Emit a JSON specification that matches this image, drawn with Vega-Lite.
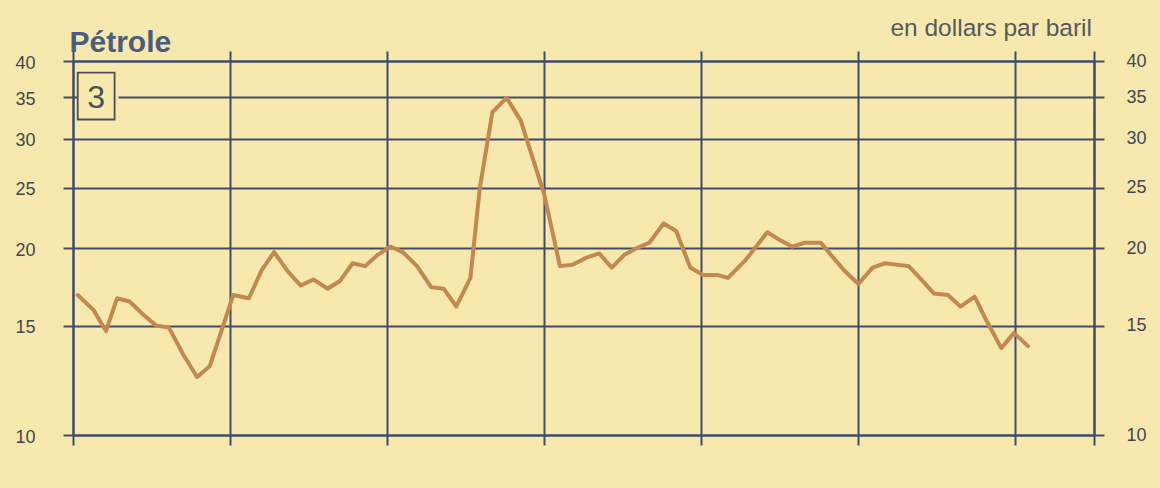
{
  "$schema": "https://vega.github.io/schema/vega-lite/v6.json",
  "width": 1021,
  "height": 374,
  "autosize": {"type": "none"},
  "padding": {"left": 73, "top": 61, "right": 66, "bottom": 53},
  "background": "#f7e9ae",
  "config": {
    "view": {"stroke": null},
    "font": "Liberation Sans",
    "axis": {
      "domainColor": "#3d4c6b", "domainWidth": 2,
      "tickColor": "#3d4c6b", "tickWidth": 2, "tickSize": 10,
      "gridColor": "#3d4c6b", "gridWidth": 2, "gridOpacity": 1,
      "labelFont": "Liberation Sans", "labelFontSize": 18, "labelColor": "#434751"
    }
  },
  "datasets": {
    "prix": [
      {"annee": 1988.03, "prix": 16.8}, {"annee": 1988.13, "prix": 15.9}, {"annee": 1988.21, "prix": 14.7},
      {"annee": 1988.28, "prix": 16.6}, {"annee": 1988.36, "prix": 16.4}, {"annee": 1988.45, "prix": 15.6},
      {"annee": 1988.53, "prix": 15.0}, {"annee": 1988.61, "prix": 14.9}, {"annee": 1988.70, "prix": 13.5},
      {"annee": 1988.79, "prix": 12.4}, {"annee": 1988.87, "prix": 12.9}, {"annee": 1989.02, "prix": 16.8},
      {"annee": 1989.12, "prix": 16.6}, {"annee": 1989.20, "prix": 18.4}, {"annee": 1989.28, "prix": 19.7},
      {"annee": 1989.37, "prix": 18.3}, {"annee": 1989.45, "prix": 17.4}, {"annee": 1989.53, "prix": 17.8},
      {"annee": 1989.62, "prix": 17.2}, {"annee": 1989.70, "prix": 17.7}, {"annee": 1989.78, "prix": 18.9},
      {"annee": 1989.86, "prix": 18.7}, {"annee": 1989.94, "prix": 19.5}, {"annee": 1990.02, "prix": 20.1},
      {"annee": 1990.10, "prix": 19.7}, {"annee": 1990.19, "prix": 18.7}, {"annee": 1990.28, "prix": 17.3},
      {"annee": 1990.36, "prix": 17.2}, {"annee": 1990.44, "prix": 16.1}, {"annee": 1990.53, "prix": 17.9},
      {"annee": 1990.59, "prix": 25.0}, {"annee": 1990.67, "prix": 33.1}, {"annee": 1990.76, "prix": 34.9},
      {"annee": 1990.85, "prix": 32.1}, {"annee": 1991.00, "prix": 24.4}, {"annee": 1991.10, "prix": 18.7},
      {"annee": 1991.18, "prix": 18.8}, {"annee": 1991.27, "prix": 19.3}, {"annee": 1991.35, "prix": 19.6},
      {"annee": 1991.43, "prix": 18.6}, {"annee": 1991.51, "prix": 19.5}, {"annee": 1991.59, "prix": 20.0},
      {"annee": 1991.67, "prix": 20.4}, {"annee": 1991.76, "prix": 21.9}, {"annee": 1991.84, "prix": 21.3},
      {"annee": 1991.93, "prix": 18.6}, {"annee": 1992.01, "prix": 18.1}, {"annee": 1992.10, "prix": 18.1},
      {"annee": 1992.17, "prix": 17.9}, {"annee": 1992.28, "prix": 19.1}, {"annee": 1992.42, "prix": 21.2},
      {"annee": 1992.50, "prix": 20.6}, {"annee": 1992.58, "prix": 20.1}, {"annee": 1992.66, "prix": 20.4},
      {"annee": 1992.76, "prix": 20.4}, {"annee": 1992.84, "prix": 19.3}, {"annee": 1992.91, "prix": 18.4},
      {"annee": 1993.00, "prix": 17.5}, {"annee": 1993.09, "prix": 18.6}, {"annee": 1993.17, "prix": 18.9},
      {"annee": 1993.32, "prix": 18.7}, {"annee": 1993.40, "prix": 17.8}, {"annee": 1993.48, "prix": 16.9},
      {"annee": 1993.57, "prix": 16.8}, {"annee": 1993.65, "prix": 16.1}, {"annee": 1993.74, "prix": 16.7},
      {"annee": 1993.82, "prix": 15.2}, {"annee": 1993.91, "prix": 13.8}, {"annee": 1993.99, "prix": 14.6},
      {"annee": 1994.08, "prix": 13.9}
    ],
    "cadre": [
      {"label": "3", "x": 1988.03, "x2": 1988.265, "xfond": 1988.29, "y": 32.2, "y2": 38.3, "ytexte": 34.9, "xtexte": 1988.147}
    ]
  },
  "layer": [
    {
      "data": {"name": "cadre"},
      "mark": {"type": "rect", "fill": "#f7e9ae", "stroke": null},
      "encoding": {
        "x": {"field": "x", "type": "quantitative", "scale": {"type": "linear", "domain": [1988, 1994.5], "nice": false, "zero": false}, "axis": null},
        "x2": {"field": "xfond"},
        "y": {"field": "y", "type": "quantitative", "scale": {"type": "log", "domain": [10, 40], "nice": false, "zero": false}, "axis": null},
        "y2": {"field": "y2"}
      }
    },
    {
      "data": {"name": "cadre"},
      "mark": {"type": "rect", "fill": null, "fillOpacity": 0, "stroke": "#4b4e57", "strokeWidth": 1.8},
      "encoding": {
        "x": {"field": "x", "type": "quantitative", "scale": {"type": "linear", "domain": [1988, 1994.5], "nice": false, "zero": false},
          "axis": {"orient": "top", "values": [1988, 1989, 1990, 1991, 1992, 1993, 1994, 1994.5], "labels": false, "grid": false, "title": null, "domain": true, "ticks": true}},
        "x2": {"field": "x2"},
        "y": {"field": "y", "type": "quantitative", "scale": {"type": "log", "domain": [10, 40], "nice": false, "zero": false},
          "axis": {"orient": "right", "values": [10, 15, 20, 25, 30, 35, 40], "format": "d", "grid": false, "labelPadding": 22,
            "title": "en dollars par baril", "titleAngle": 0, "titleAlign": "right", "titleBaseline": "alphabetic",
            "titleX": -2.5, "titleY": -26, "titleFontSize": 24.5, "titleFontWeight": "normal", "titleColor": "#55595f", "titleFont": "Liberation Sans"}},
        "y2": {"field": "y2"}
      }
    },
    {
      "data": {"name": "cadre"},
      "mark": {"type": "text", "fontSize": 32, "color": "#4b4e57", "align": "center", "baseline": "middle", "font": "Liberation Sans"},
      "encoding": {
        "x": {"field": "xtexte", "type": "quantitative", "scale": {"type": "linear", "domain": [1988, 1994.5], "nice": false, "zero": false}, "axis": null},
        "y": {"field": "ytexte", "type": "quantitative", "scale": {"type": "log", "domain": [10, 40], "nice": false, "zero": false}, "axis": null},
        "text": {"field": "label"}
      }
    },
    {
      "data": {"name": "prix"},
      "mark": {"type": "line", "color": "#c4874f", "strokeWidth": 4, "strokeJoin": "round", "strokeCap": "round"},
      "encoding": {
        "x": {"field": "annee", "type": "quantitative", "scale": {"type": "linear", "domain": [1988, 1994.5], "nice": false, "zero": false},
          "axis": {"orient": "bottom", "values": [1988, 1989, 1990, 1991, 1992, 1993, 1994, 1994.5], "labels": false, "grid": true, "title": null, "domain": true, "ticks": true}},
        "y": {"field": "prix", "type": "quantitative", "scale": {"type": "log", "domain": [10, 40], "nice": false, "zero": false},
          "axis": {"orient": "left", "values": [10, 15, 20, 25, 30, 35, 40], "format": "d", "grid": true, "labelPadding": 28, "labelOffset": 2,
            "title": "Pétrole", "titleAngle": 0, "titleAlign": "left", "titleBaseline": "alphabetic",
            "titleX": -4, "titleY": -10, "titleFontSize": 30, "titleFontWeight": "bold", "titleColor": "#4a5c80", "titleFont": "Liberation Sans"}}
      }
    }
  ],
  "resolve": {"axis": {"x": "independent", "y": "independent"}}
}
